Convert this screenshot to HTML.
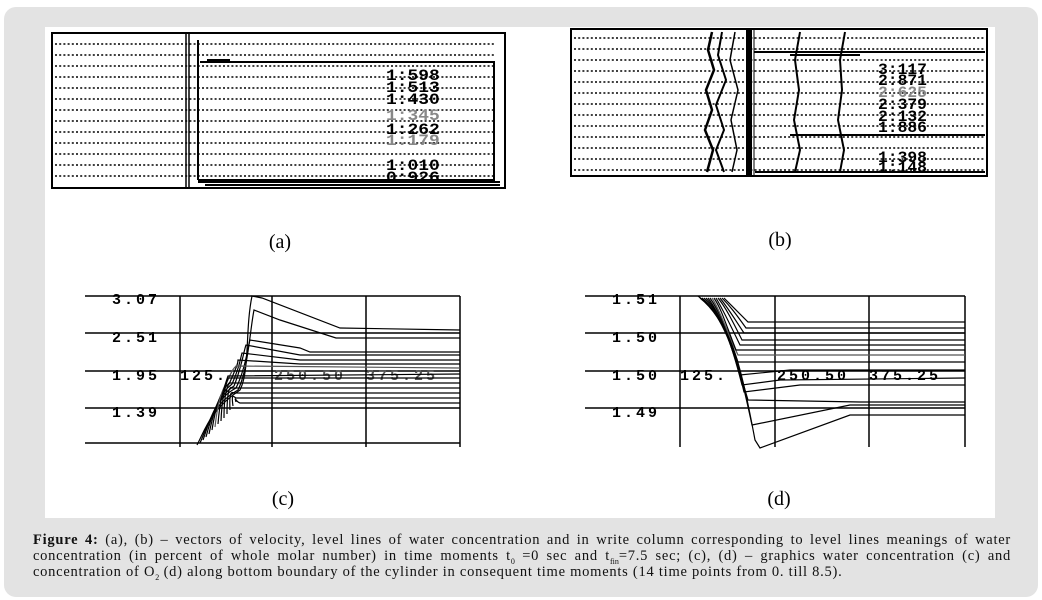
<!DOCTYPE html>
<html><head><meta charset="utf-8"><style>
html,body{margin:0;padding:0;background:#fff;width:1042px;height:600px;overflow:hidden}
.cap{position:absolute;left:33px;top:532px;width:978px;font-family:"Liberation Serif",serif;font-size:14.5px;letter-spacing:0.75px;line-height:16.2px;color:#111;text-align:justify;text-align-last:left}
sub{font-size:8px;line-height:0;letter-spacing:0}
</style></head><body>
<svg width="1042" height="600" style="position:absolute;left:0;top:0" xmlns="http://www.w3.org/2000/svg">
<rect x="4" y="7" width="1034" height="590" rx="12" fill="#e3e3e3"/>
<rect x="45" y="27" width="950" height="491" fill="#fff"/>
<g stroke="#000" fill="none" stroke-dasharray="2 2.2" stroke-width="1.5">
<path d="M55 44H494M55 55H494M55 66H494M55 77H494M55 88H494M55 99H494M55 110H494M55 121H494M55 132H494M55 143H494M55 154H494M55 165H494M55 176H494"/>
<path d="M574 38H985M574 49H985M574 60H985M574 71H985M574 82H985M574 93H985M574 104H985M574 115H985M574 126H985M574 137H985M574 148H985M574 159H985M574 170H985"/>
</g>
<g stroke="#000" fill="none">
<rect x="52" y="33" width="453" height="155" stroke-width="2"/>
<path d="M186 33V188M189 33V188" stroke-width="1.5"/>
<path d="M198 40V180M198 180H495M200 62H494V180M207 60H230" stroke-width="2"/>
<path d="M198 182H500M205 185H500" stroke-width="2"/>
<rect x="571" y="29" width="416" height="147" stroke-width="2"/>
<path d="M749 29V176" stroke-width="6"/>
<path d="M754 29V176" stroke-width="1"/>
<path d="M712 32 L708 50 L714 70 L706 90 L712 110 L705 130 L713 150 L707 172" stroke-width="2.5"/>
<path d="M722 32 L718 55 L726 80 L716 105 L724 130 L716 150 L724 172" stroke-width="2"/>
<path d="M735 32 L730 60 L738 90 L731 120 L737 150 L732 172" stroke-width="1.5"/>
<path d="M800 32 L795 60 L799 90 L794 120 L800 150 L795 172" stroke-width="2"/>
<path d="M845 32 L840 60 L842 90 L838 120 L844 150 L840 172" stroke-width="2"/>
<path d="M754 52H985M790 55H860M790 135H985M755 172H985" stroke-width="2"/>
</g>
<g font-family="Liberation Mono,monospace" font-weight="bold" font-size="16">
<g transform="translate(386,0) scale(1.12,1)">
<text y="80">1:598</text><text y="92">1:513</text><text y="104">1:430</text><text y="120" fill="#888">1:345</text><text y="134">1:262</text><text y="145" fill="#888">1:179</text><text y="170">1:010</text><text y="182">0:926</text>
</g>
<g transform="translate(878,0) scale(1.02,1)">
<text y="74">3:117</text><text y="85">2:871</text><text y="97" fill="#888">2:625</text><text y="109">2:379</text><text y="121">2:132</text><text y="132">1:886</text><text y="162">1:398</text><text y="172">1:148</text>
</g>
</g>
<g font-family="Liberation Serif,serif" font-size="20" text-anchor="middle">
<text x="280" y="248">(a)</text><text x="780" y="246">(b)</text>
<text x="283" y="505">(c)</text><text x="779" y="505">(d)</text>
</g>
<g stroke="#000" fill="none" stroke-width="1.5">
<path d="M85 296H460M85 333H460M85 371H460M85 408H460M85 443H460" />
<path d="M180 296V447M272 296V447M366 296V447M460 296V447"/>
</g>
<g font-family="Liberation Mono,monospace" font-weight="bold" font-size="15" letter-spacing="3">
<text x="112" y="304">3.07</text><text x="112" y="342">2.51</text><text x="112" y="380">1.95</text><text x="112" y="417">1.39</text>
<text x="180" y="380">125.</text><text x="274" y="380" fill="#555">250.50</text><text x="366" y="380" fill="#555">375.25</text>
</g>
<g stroke="#000" fill="none" stroke-width="1.2">
<path d="M197 445 C205 430 210 410 240 390 C250 370 245 330 252 296 L262 298 L340 328 L460 330"/>
<path d="M200 443 C208 425 212 405 238 390 C248 370 250 330 254 310 L280 320 L336 338 L460 338"/>
<path d="M203 440 C210 420 214 400 236 388 C246 368 248 345 250 340 L300 348 L310 352 L460 352"/>
<path d="M206 437 C212 415 216 398 234 386 C242 366 244 350 246 345 L300 355 L460 355"/>
<path d="M209 434 C214 410 218 395 232 384 C240 366 240 360 242 353 L300 360 L460 360"/>
<path d="M212 430 C216 405 220 392 230 382 C236 368 238 364 238 360 L300 364 L460 364"/>
<path d="M215 427 C218 400 222 390 228 380 C232 370 234 368 236 366 L460 368" stroke="#555"/>
<path d="M218 424 C220 398 224 388 228 376 L460 374"/>
<path d="M221 421 C222 395 226 386 228 378 L460 378"/>
<path d="M224 418 C224 392 228 384 230 383 L460 383"/>
<path d="M227 414 C227 390 230 386 232 388 L460 388"/>
<path d="M230 410 C229 390 232 392 234 393 L460 393"/>
<path d="M233 406 C231 392 234 397 236 398 L460 398"/>
<path d="M236 402 C234 395 236 402 240 403 L460 403"/>
</g>
<g stroke="#000" fill="none" stroke-width="1.5">
<path d="M585 296H965M585 333H965M585 371H965M585 408H965"/>
<path d="M680 296V447M775 296V447M869 296V447M965 296V447"/>
</g>
<g font-family="Liberation Mono,monospace" font-weight="bold" font-size="15" letter-spacing="3">
<text x="612" y="304">1.51</text><text x="612" y="342">1.50</text><text x="612" y="380">1.50</text><text x="612" y="417">1.49</text>
<text x="680" y="380">125.</text><text x="777" y="380">250.50</text><text x="869" y="380">375.25</text>
</g>
<g stroke="#000" fill="none" stroke-width="1.2">
<path d="M698 296 C730 320 740 360 755 440 L760 448 L850 415 L965 415"/>
<path d="M700 298 C728 320 738 360 752 425 L850 405 L965 405"/>
<path d="M702 298 C726 320 736 360 748 400 L860 402 L965 402"/>
<path d="M704 298 C724 318 734 350 744 392 L800 385 L965 385"/>
<path d="M706 298 C722 316 732 345 742 385 L780 380 L965 378"/>
<path d="M708 298 C720 314 730 340 740 375 L790 370 L965 370"/>
<path d="M710 298 C720 312 728 335 738 362 L965 362"/>
<path d="M712 298 C720 310 726 330 738 355 L965 355" stroke="#555"/>
<path d="M714 298 C722 310 726 325 736 350 L965 350"/>
<path d="M716 298 C722 308 728 320 740 345 L965 345"/>
<path d="M718 298 C726 308 732 320 742 340 L965 340"/>
<path d="M720 298 C728 308 734 318 744 333 L965 333"/>
<path d="M722 298 C730 306 736 314 746 328 L965 328"/>
<path d="M724 298 C732 306 738 312 748 322 L965 322"/>
</g>
</svg>
<div class="cap"><b>Figure 4:</b> (a), (b) – vectors of velocity, level lines of water concentration and in write column corresponding to level lines meanings of water concentration (in percent of whole molar number) in time moments t<sub>0</sub> =0 sec and t<sub>fin</sub>=7.5 sec; (c), (d) – graphics water concentration (c) and concentration of O<sub>2</sub> (d) along bottom boundary of the cylinder in consequent time moments (14 time points from 0. till 8.5).</div>
</body></html>
